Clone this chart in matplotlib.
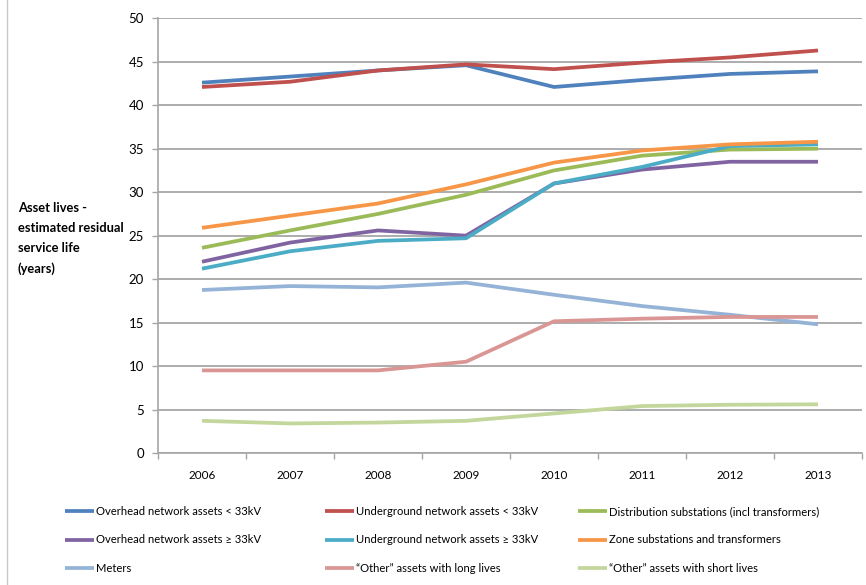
import numpy as np
import matplotlib.pyplot as plt
from matplotlib.lines import Line2D

plt.rcParams['font.family'] = ['Lato', 'DejaVu Sans']

years = ['2006', '2007', '2008', '2009', '2010', '2011', '2012', '2013']

# estimated residual service life (years)
overhead_lt33 = [42.6, 43.3, 44.0, 44.6, 42.1, 42.9, 43.6, 43.9]
underground_lt33 = [42.1, 42.7, 44.0, 44.7, 44.15, 44.9, 45.5, 46.3]
dist_subs = [23.6, 25.6, 27.5, 29.7, 32.5, 34.2, 34.9, 35.0]
overhead_ge33 = [22.0, 24.2, 25.6, 25.0, 31.0, 32.6, 33.5, 33.5]
underground_ge33 = [21.2, 23.2, 24.4, 24.7, 31.0, 32.9, 35.3, 35.5]
zone_subs = [25.9, 27.3, 28.7, 30.9, 33.4, 34.8, 35.5, 35.8]
meters = [18.75, 19.2, 19.05, 19.6, 18.2, 16.9, 15.9, 14.8]
other_long = [9.5, 9.5, 9.5, 10.5, 15.15, 15.45, 15.65, 15.65]
other_short = [3.7, 3.4, 3.5, 3.7, 4.55, 5.4, 5.55, 5.6]

series = [
    ('Overhead network assets < 33kV', overhead_lt33, '#4F81BD'),
    ('Underground network assets < 33kV', underground_lt33, '#C0504D'),
    ('Distribution substations (incl transformers)', dist_subs, '#9BBB59'),
    ('Overhead network assets \u2265 33kV', overhead_ge33, '#8064A2'),
    ('Underground network assets \u2265 33kV', underground_ge33, '#4BACC6'),
    ('Zone substations and transformers', zone_subs, '#F79646'),
    ('Meters', meters, '#95B3D7'),
    ('\u201cOther\u201d assets with long lives', other_long, '#D99694'),
    ('\u201cOther\u201d assets with short lives', other_short, '#C3D69B'),
]

fig = plt.figure(figsize=(8.66, 5.85), dpi=100)
ax = fig.add_axes([158/866, 1 - 453/585, 704/866, (453 - 18.3)/585])

x = np.arange(len(years))
handles = []
for name, vals, col in series:
    h, = ax.plot(x, vals, color=col, lw=2.7, solid_capstyle='butt', label=name)
    handles.append(h)

ax.set_xlim(-0.5, len(years) - 0.5)
ax.set_ylim(0, 50)
ax.set_yticks(range(0, 51, 5))
ax.set_xticks(x)
ax.set_xticklabels(years)
ax.set_xticks(np.arange(-0.5, len(years), 1), minor=True)
ax.tick_params(axis='x', which='major', length=0, pad=12, labelsize=8.5)
ax.tick_params(axis='x', which='minor', length=4, color='#A6A6A6', width=1)
ax.tick_params(axis='y', length=4, color='#A6A6A6', width=1, pad=6, labelsize=9.5)
ax.yaxis.grid(True, color='#A6A6A6', lw=1.3)
ax.set_axisbelow(True)
for s in ['top', 'right']:
    ax.spines[s].set_visible(False)
for s in ['left', 'bottom']:
    ax.spines[s].set_color('#A6A6A6')
    ax.spines[s].set_linewidth(1.2)

fig.text(18/866, 1 - 202/585, 'Asset lives -\nestimated residual\nservice life\n(years)',
         fontsize=9.3, fontweight='bold', ha='left', va='top', linespacing=1.78)

# legend: three columns placed like the original
col_x = [65/866, 325/866, 578/866]
for c in range(3):
    hs = [handles[r * 3 + c] for r in range(3)]
    fig.legend(hs, [h.get_label() for h in hs], loc='upper left',
               bbox_to_anchor=(col_x[c], 1 - 506/585), frameon=False,
               fontsize=8.1, handlelength=2.6, handletextpad=0.15,
               labelspacing=1.55, borderaxespad=0, borderpad=0)

fig.add_artist(Line2D([7.5/866, 7.5/866], [0, 1], color='#C8C8C8', lw=1,
                      transform=fig.transFigure))

fig.savefig('out.png', dpi=100)
